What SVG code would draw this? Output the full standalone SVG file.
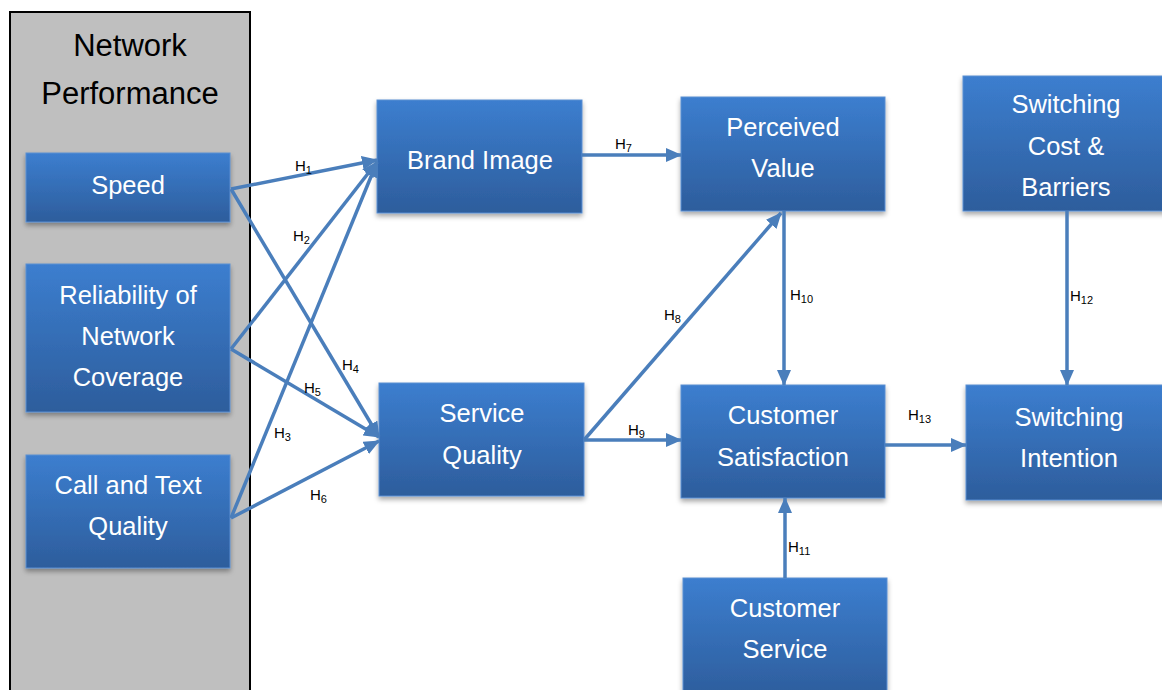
<svg xmlns="http://www.w3.org/2000/svg" width="1162" height="690" viewBox="0 0 1162 690">
<defs>
<linearGradient id="g" x1="0" y1="0" x2="0" y2="1">
<stop offset="0" stop-color="#3c7ecf"/>
<stop offset="1" stop-color="#2d5d9c"/>
</linearGradient>
<filter id="sh" x="-10%" y="-10%" width="125%" height="130%">
<feDropShadow dx="0" dy="3" stdDeviation="2.5" flood-color="#000" flood-opacity="0.35"/>
</filter>
<marker id="ah" markerUnits="userSpaceOnUse" markerWidth="16" markerHeight="14" viewBox="0 0 16 14" refX="15" refY="7" orient="auto">
<path d="M0,0 L16,7 L0,14 Z" fill="#4a7ebb"/>
</marker>
<style>
.box{fill:url(#g);stroke:#5a8fd2;stroke-width:1;filter:url(#sh)}
.t{font-family:"Liberation Sans",Arial,sans-serif;font-size:25.5px;fill:#fff;text-anchor:middle}
.title{font-family:"Liberation Sans",Arial,sans-serif;font-size:31px;fill:#000;text-anchor:middle}
.c{stroke:#4a7ebb;stroke-width:3.5;fill:none;marker-end:url(#ah)}
.l{font-family:"Liberation Sans",Arial,sans-serif;font-size:15px;fill:#000}
.s{font-size:11px}
</style>
</defs>
<rect width="1162" height="690" fill="#fff"/>
<g id="panel">
<rect x="10" y="12" width="240" height="690" fill="#bfbfbf" stroke="#000" stroke-width="2"/>
<text class="title" x="130" y="56">Network</text>
<text class="title" x="130" y="104">Performance</text>
</g>
<g id="speed"><rect class="box" x="26" y="153" width="204" height="69"/><text class="t" x="128" y="194">Speed</text></g>
<g id="reliability"><rect class="box" x="26" y="264" width="204" height="148"/><text class="t" x="128" y="304">Reliability of</text><text class="t" x="128" y="345">Network</text><text class="t" x="128" y="386">Coverage</text></g>
<g id="calltext"><rect class="box" x="26" y="455" width="204" height="113"/><text class="t" x="128" y="494">Call and Text</text><text class="t" x="128" y="535">Quality</text></g>
<g id="brand"><rect class="box" x="377" y="100" width="205" height="113"/><text class="t" x="480" y="169">Brand Image</text></g>
<g id="servicequality"><rect class="box" x="379" y="383" width="205" height="113"/><text class="t" x="482" y="422">Service</text><text class="t" x="482" y="464">Quality</text></g>
<g id="perceived"><rect class="box" x="681" y="97" width="204" height="114"/><text class="t" x="783" y="136">Perceived</text><text class="t" x="783" y="177">Value</text></g>
<g id="satisfaction"><rect class="box" x="681" y="385" width="204" height="113"/><text class="t" x="783" y="424">Customer</text><text class="t" x="783" y="466">Satisfaction</text></g>
<g id="switchcost"><rect class="box" x="963" y="76" width="206" height="135"/><text class="t" x="1066" y="113">Switching</text><text class="t" x="1066" y="155">Cost &amp;</text><text class="t" x="1066" y="196">Barriers</text></g>
<g id="switchintent"><rect class="box" x="966" y="385" width="206" height="115"/><text class="t" x="1069" y="426">Switching</text><text class="t" x="1069" y="467">Intention</text></g>
<g id="custservice"><rect class="box" x="683" y="578" width="204" height="120"/><text class="t" x="785" y="617">Customer</text><text class="t" x="785" y="658">Service</text></g>
<g id="connectors">
<line class="c" x1="231" y1="189" x2="377" y2="160"/>
<line class="c" x1="231" y1="189" x2="379" y2="437"/>
<line class="c" x1="231" y1="349" x2="377" y2="162"/>
<line class="c" x1="231" y1="349" x2="379" y2="437"/>
<line class="c" x1="231" y1="518" x2="377" y2="162"/>
<line class="c" x1="231" y1="518" x2="379" y2="441"/>
<line class="c" x1="582" y1="155" x2="681" y2="155"/>
<line class="c" x1="584" y1="440" x2="781" y2="213"/>
<line class="c" x1="584" y1="440" x2="681" y2="440"/>
<line class="c" x1="784" y1="211" x2="784" y2="385"/>
<line class="c" x1="785" y1="578" x2="785" y2="498"/>
<line class="c" x1="1067" y1="211" x2="1067" y2="385"/>
<line class="c" x1="885" y1="445" x2="966" y2="445"/>
</g>
<g id="labels">
<text class="l" x="295" y="171">H<tspan class="s" dy="3">1</tspan></text>
<text class="l" x="293" y="241">H<tspan class="s" dy="3">2</tspan></text>
<text class="l" x="274" y="438">H<tspan class="s" dy="3">3</tspan></text>
<text class="l" x="342" y="370">H<tspan class="s" dy="3">4</tspan></text>
<text class="l" x="304" y="393">H<tspan class="s" dy="3">5</tspan></text>
<text class="l" x="310" y="500">H<tspan class="s" dy="3">6</tspan></text>
<text class="l" x="615" y="149">H<tspan class="s" dy="3">7</tspan></text>
<text class="l" x="664" y="320">H<tspan class="s" dy="3">8</tspan></text>
<text class="l" x="628" y="435">H<tspan class="s" dy="3">9</tspan></text>
<text class="l" x="790" y="300">H<tspan class="s" dy="3">10</tspan></text>
<text class="l" x="788" y="552">H<tspan class="s" dy="3">11</tspan></text>
<text class="l" x="1070" y="301">H<tspan class="s" dy="3">12</tspan></text>
<text class="l" x="908" y="420">H<tspan class="s" dy="3">13</tspan></text>
</g>
</svg>
